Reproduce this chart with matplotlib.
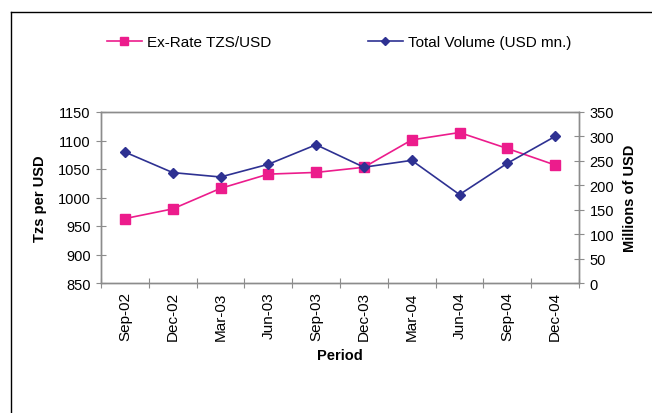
import matplotlib
matplotlib.use("Agg")
import matplotlib.pyplot as plt
from matplotlib.lines import Line2D

plt.rcParams['font.family'] = ['Liberation Sans', 'DejaVu Sans']

periods = ["Sep-02", "Dec-02", "Mar-03", "Jun-03", "Sep-03",
           "Dec-03", "Mar-04", "Jun-04", "Sep-04", "Dec-04"]
ex_rate = [963, 980, 1016, 1041, 1044, 1053, 1101, 1114, 1086, 1057]
volume = [268, 226, 217, 243, 283, 237, 251, 181, 245, 300]

W, H = 652, 414
fig = plt.figure(figsize=(W / 100, H / 100), dpi=100)
ax = fig.add_axes([101 / W, 1 - 284 / H, 478 / W, 171 / H])
ax2 = ax.twinx()

pink = "#EC1C8C"
navy = "#2E3192"
grey = "#8C8C8C"

x = list(range(len(periods)))
l1, = ax.plot(x, ex_rate, color=pink, lw=1.2, marker='s', ms=7,
              markeredgecolor=pink, label="Ex-Rate TZS/USD", zorder=3)
l2, = ax2.plot(x, volume, color=navy, lw=1.2, marker='D', ms=5.5,
               markeredgecolor=navy, label="Total Volume (USD mn.)", zorder=3)

ax.set_xlim(-0.5, len(periods) - 0.5)
ax.set_ylim(850, 1150)
ax.set_yticks(range(850, 1151, 50))
ax2.set_ylim(0, 350)
ax2.set_yticks(range(0, 351, 50))

ax.set_xticks([i + 0.5 for i in range(-1, len(periods))], minor=False)
ax.set_xticklabels([])
ax.set_xticks(x, minor=True)
ax.set_xticklabels(periods, minor=True, rotation=90, fontsize=11)
ax.tick_params(axis='x', which='minor', length=0, pad=6)
ax.tick_params(axis='x', which='major', direction='inout', length=7, color=grey)
ax.tick_params(axis='y', direction='inout', length=7, color=grey, labelsize=10.5, pad=4)
ax2.tick_params(axis='y', direction='inout', length=7, color=grey, labelsize=10.5, pad=4)

for a in (ax, ax2):
    for s in a.spines.values():
        s.set_color(grey)
        s.set_linewidth(1.0)

fig.text(40 / W, 1 - 198.5 / H, "Tzs per USD", rotation=90, ha='center', va='center',
         fontsize=10.5, fontweight='bold')
fig.text(630 / W, 1 - 198.5 / H, "Millions of USD", rotation=90, ha='center', va='center',
         fontsize=10.5, fontweight='bold')
fig.text(340 / W, 1 - 356 / H, "Period", ha='center', va='center',
         fontsize=10.5, fontweight='bold')

fig.legend(handles=[l1, l2], loc='center', bbox_to_anchor=(339 / W, 1 - 43 / H),
           ncol=2, frameon=False, fontsize=11, handlelength=2.3,
           columnspacing=6.3, handletextpad=0.35, markerscale=0.8)

fig.add_artist(Line2D([10.5 / W, 1], [1 - 12.5 / H, 1 - 12.5 / H],
                      transform=fig.transFigure, color='black', lw=1.0))
fig.add_artist(Line2D([10.5 / W, 10.5 / W], [0, 1 - 12.5 / H],
                      transform=fig.transFigure, color='black', lw=1.0))

fig.savefig("out.png", dpi=100)
